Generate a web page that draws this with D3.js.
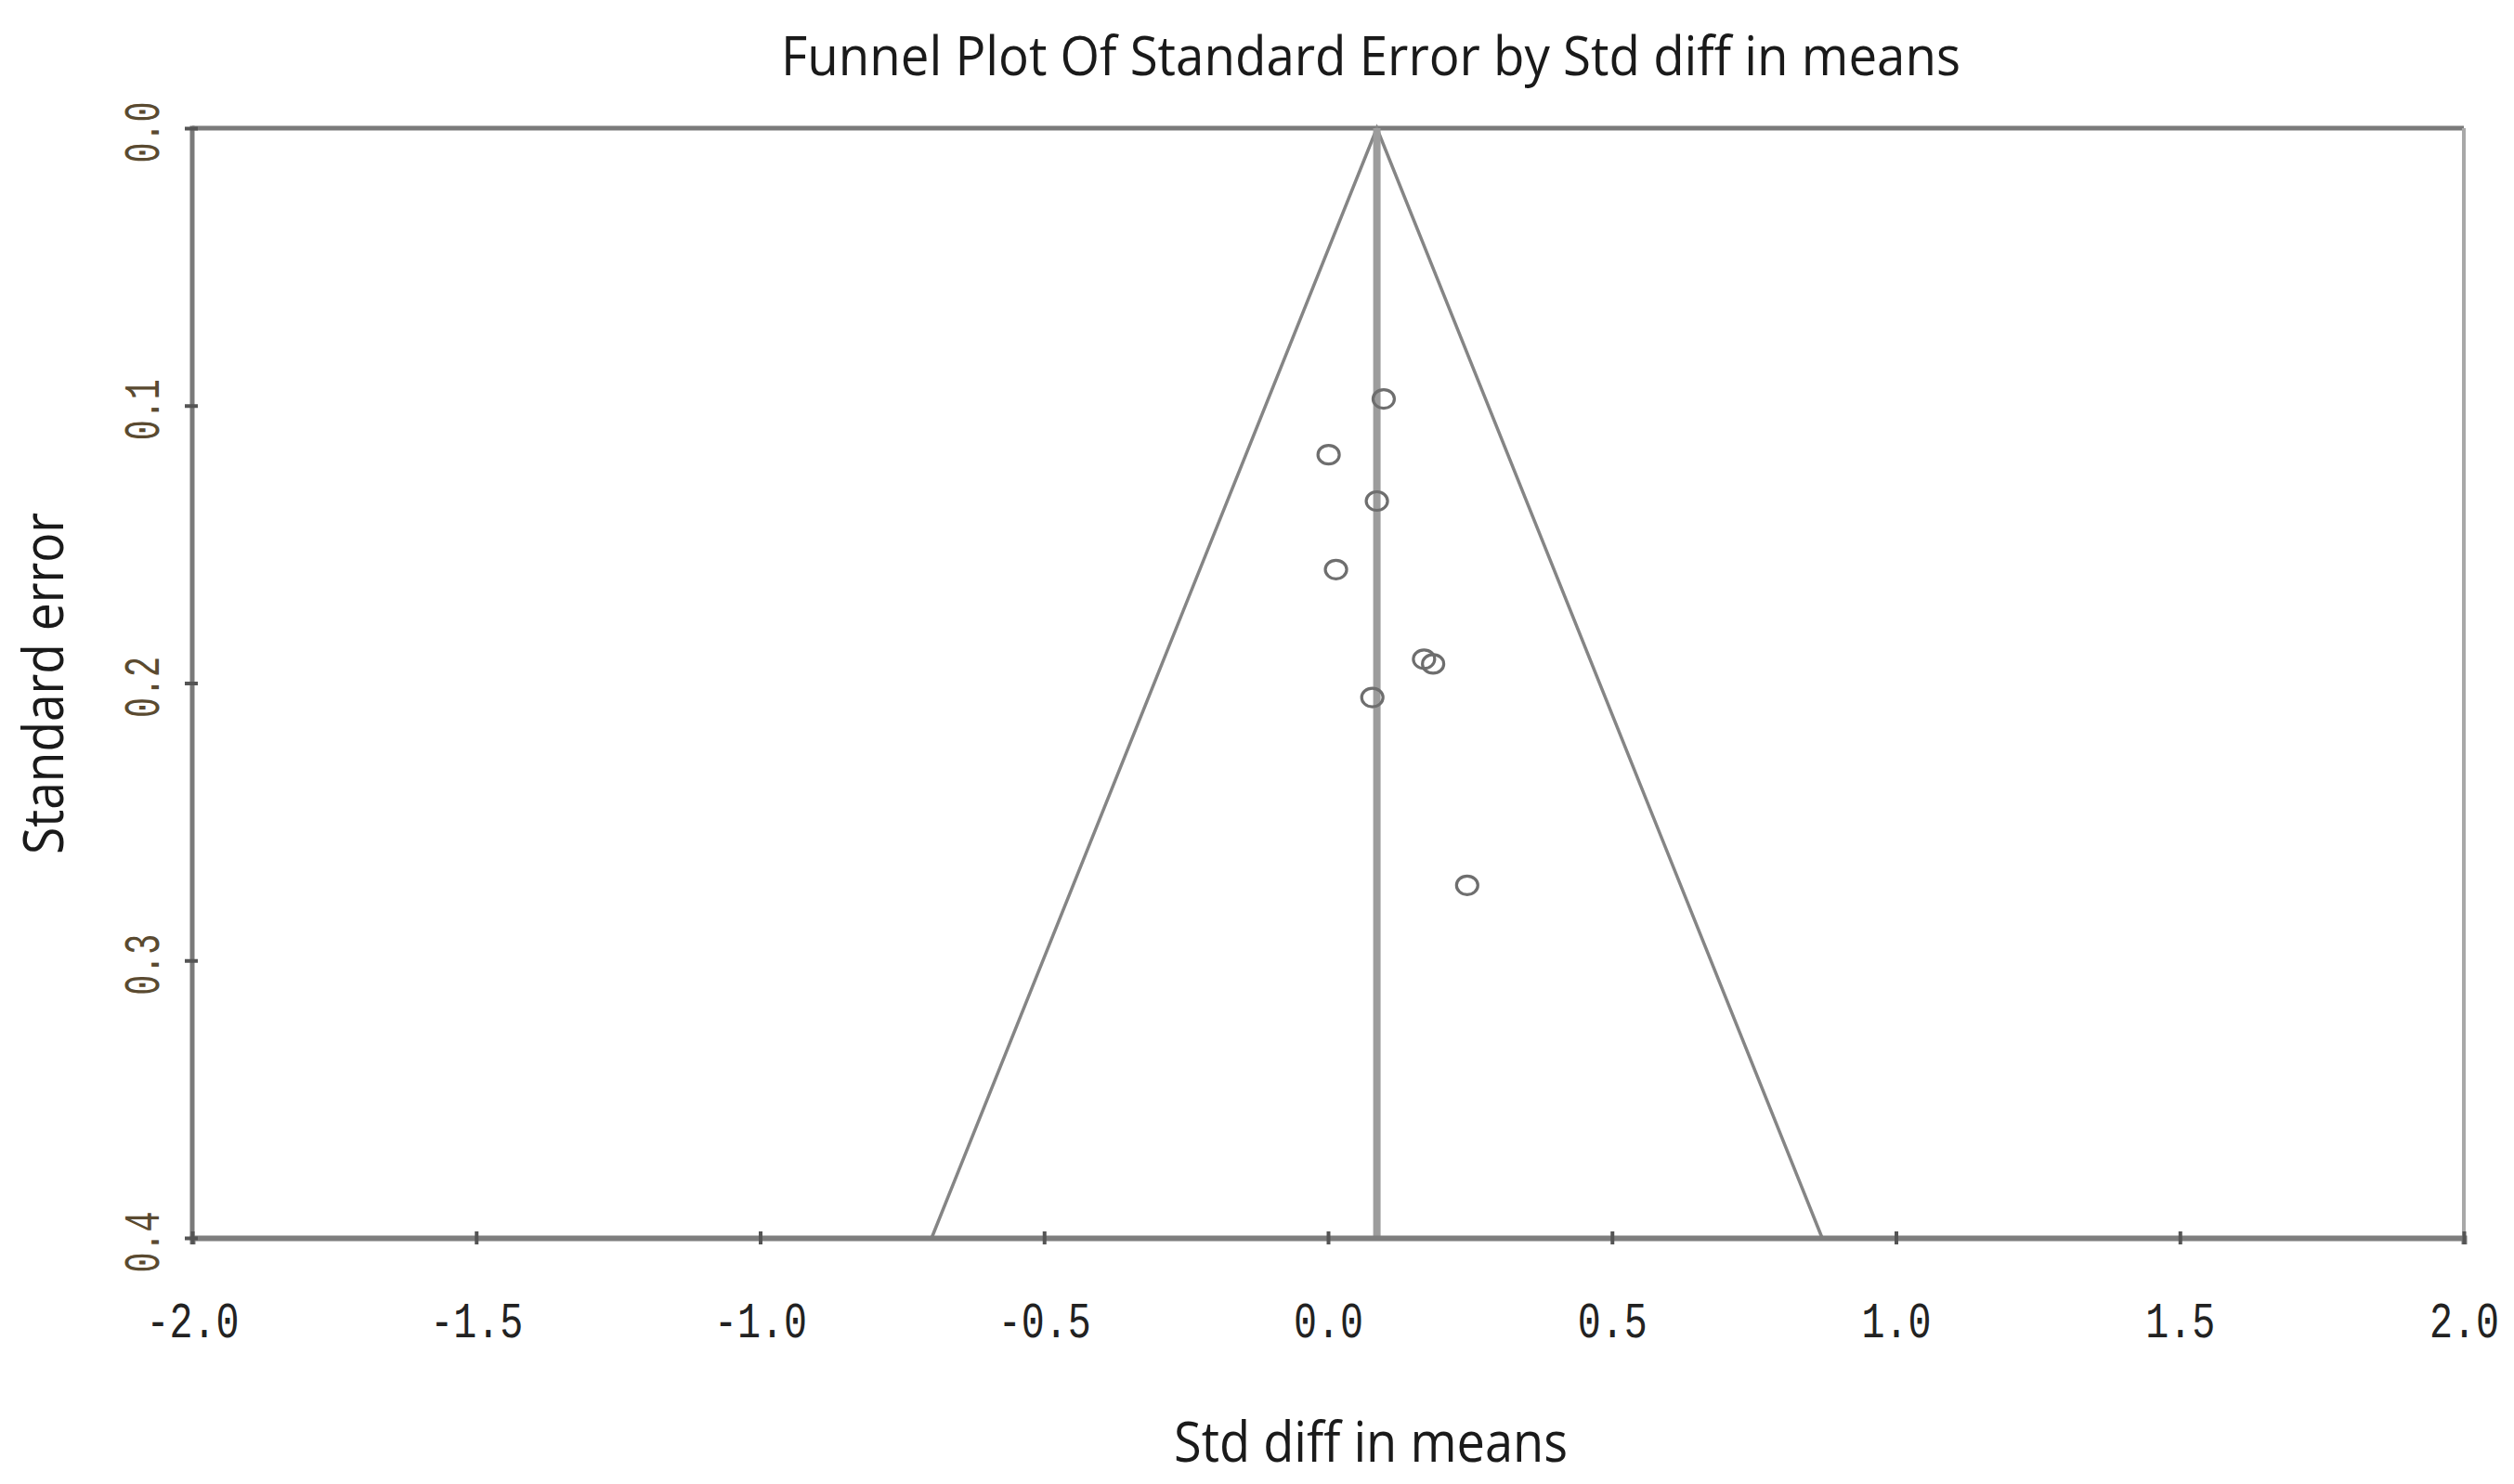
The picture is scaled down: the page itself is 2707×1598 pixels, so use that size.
<!DOCTYPE html>
<html>
<head>
<meta charset="utf-8">
<script src="https://cdn.jsdelivr.net/npm/d3@7"></script>
<style>
  html, body { margin: 0; padding: 0; background: #ffffff; }
  svg { display: block; }
</style>
</head>
<body>
<svg id="chart" width="2707" height="1598"></svg>
<script>
// ---- data ----
const chartTitle = "Funnel Plot Of Standard Error by Std diff in means";
const xLabel = "Std diff in means";
const yLabel = "Standard error";
const xTickValues = [-2.0, -1.5, -1.0, -0.5, 0.0, 0.5, 1.0, 1.5, 2.0];
const yTickValues = [0.0, 0.1, 0.2, 0.3, 0.4];
const studyEffect = [0.098, 0.001, 0.086, 0.014, 0.169, 0.185, 0.078, 0.245];
const studySE     = [0.0976, 0.1177, 0.1344, 0.1591, 0.1914, 0.1931, 0.2052, 0.2729];
const pooledEffect = 0.086;
const zCrit = 1.96;
const seMax = 0.4;

// ---- layout ----
const svg = d3.select("#chart");
const pLeft = 207, pRight = 2653, pTop = 138, pBottom = 1333;
const x = d3.scaleLinear().domain([-2, 2]).range([pLeft, pRight]);
const y = d3.scaleLinear().domain([0, seMax]).range([pTop, pBottom]);
const fmt = d => d.toFixed(1);
const tickFont = "'Liberation Mono', 'DejaVu Sans Mono', monospace";

// frame
svg.append("line").attr("x1", pLeft).attr("x2", pRight).attr("y1", pTop).attr("y2", pTop)
  .attr("stroke", "#7a7a7a").attr("stroke-width", 5);
svg.append("line").attr("x1", pLeft).attr("x2", pLeft).attr("y1", pTop - 2.5).attr("y2", pBottom + 2.5)
  .attr("stroke", "#7a7a7a").attr("stroke-width", 5);
svg.append("line").attr("x1", pRight).attr("x2", pRight).attr("y1", pTop).attr("y2", pBottom)
  .attr("stroke", "#a8a8a8").attr("stroke-width", 4);

// funnel lines
const funnel = [
  [pooledEffect - zCrit * seMax, seMax],
  [pooledEffect, 0],
  [pooledEffect + zCrit * seMax, seMax]
];
svg.append("path")
  .datum(funnel)
  .attr("d", d3.line().x(d => x(d[0])).y(d => y(d[1])))
  .attr("fill", "none")
  .attr("stroke", "#858585")
  .attr("stroke-width", 3.5);

// pooled effect line
svg.append("line")
  .attr("x1", x(pooledEffect)).attr("x2", x(pooledEffect))
  .attr("y1", y(0)).attr("y2", y(seMax))
  .attr("stroke", "#9c9c9c").attr("stroke-width", 8);

// bottom axis
const xAxis = svg.append("g")
  .attr("transform", `translate(0,${pBottom})`)
  .call(d3.axisBottom(x).tickValues(xTickValues).tickFormat(fmt).tickSize(7).tickPadding(62));
xAxis.select(".domain").attr("stroke", "#7e7e7e").attr("stroke-width", 6);
xAxis.selectAll(".tick line").attr("y1", -7).attr("stroke", "#555").attr("stroke-width", 4);
xAxis.selectAll(".tick text")
  .attr("font-family", tickFont)
  .attr("font-size", 54)
  .attr("fill", "#222")
  .attr("dy", "0.71em")
  .attr("textLength", d => fmt(d).length * 25)
  .attr("lengthAdjust", "spacingAndGlyphs");

// left axis
const yAxis = svg.append("g")
  .attr("transform", `translate(${pLeft},0)`)
  .call(d3.axisLeft(y).tickValues(yTickValues).tickFormat(fmt).tickSize(7).tickPadding(0));
yAxis.select(".domain").remove();
yAxis.selectAll(".tick line").attr("x2", -8).attr("x1", 6).attr("stroke", "#555").attr("stroke-width", 4);
yAxis.selectAll(".tick text").remove();
yAxis.selectAll(".tick").append("text")
  .attr("transform", "translate(-55,4) rotate(-90)")
  .attr("text-anchor", "middle")
  .attr("font-family", tickFont)
  .attr("font-size", 54)
  .attr("fill", "#5a4a30")
  .attr("dy", "0.35em")
  .attr("textLength", d => fmt(d).length * 22)
  .attr("lengthAdjust", "spacingAndGlyphs")
  .text(fmt);

// study points
svg.append("g").selectAll("ellipse")
  .data(studyEffect.map((e, i) => ({ e, se: studySE[i] })))
  .join("ellipse")
  .attr("cx", d => x(d.e))
  .attr("cy", d => y(d.se))
  .attr("rx", 11.5).attr("ry", 10)
  .attr("fill", "none")
  .attr("stroke", "#6e6e6e")
  .attr("stroke-width", 3.2);

// title & axis labels
const labelFont = "'Liberation Sans Narrow', 'Open Sans', 'Liberation Sans', sans-serif";
svg.append("text")
  .attr("x", 1476).attr("y", 81)
  .attr("text-anchor", "middle")
  .attr("font-family", labelFont)
  .attr("font-size", 58)
  .attr("fill", "#1a1a1a")
  .attr("textLength", 1270).attr("lengthAdjust", "spacingAndGlyphs")
  .text(chartTitle);

svg.append("text")
  .attr("x", 1476).attr("y", 1574)
  .attr("text-anchor", "middle")
  .attr("font-family", labelFont)
  .attr("font-size", 60)
  .attr("fill", "#1a1a1a")
  .attr("textLength", 424).attr("lengthAdjust", "spacingAndGlyphs")
  .text(xLabel);

svg.append("text")
  .attr("transform", "translate(68,736) rotate(-90)")
  .attr("text-anchor", "middle")
  .attr("font-family", labelFont)
  .attr("font-size", 60)
  .attr("fill", "#1a1a1a")
  .attr("textLength", 368).attr("lengthAdjust", "spacingAndGlyphs")
  .text(yLabel);
</script>
</body>
</html>
